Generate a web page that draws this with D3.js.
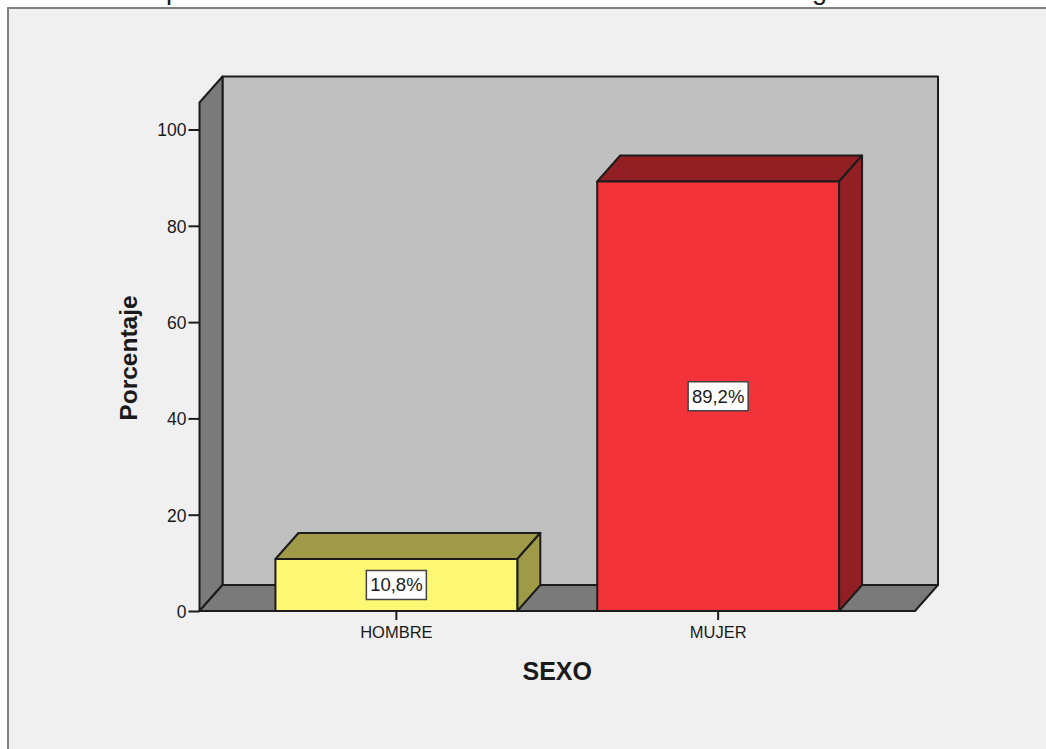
<!DOCTYPE html>
<html><head><meta charset="utf-8">
<script src="https://cdnjs.cloudflare.com/ajax/libs/d3/7.8.5/d3.min.js"></script>
<style>html,body{margin:0;padding:0;background:#fff;overflow:hidden}svg{display:block}text{font-family:"Liberation Sans",Arial,sans-serif;fill:#1a1a1a}</style>
</head><body><div id="c"></div>
<script>
const categories = ["HOMBRE", "MUJER"];
const percentages = [10.8, 89.2];
const valueLabels = ["10,8%", "89,2%"];
const yTicks = [0, 20, 40, 60, 80, 100];
const yAxisTop = 105.6;
const xTitle = "SEXO";
const yTitle = "Porcentaje";
const faceColors = ["#fdf873", "#f2333a"];
const shadeColors = ["#9e9a47", "#921f23"];

const W = 1046, H = 749;
const dx = 23, dy = -26;
const svg = d3.select("#c").append("svg").attr("width", W).attr("height", H);
const x = d3.scaleBand().domain(categories).range([199.5, 915]).paddingInner(0.2484).paddingOuter(0.236);
const y = d3.scaleLinear().domain([0, 100]).range([611, 129.5]);
const line = "#1c1c1c";
const poly = (pts, fill) => svg.append("path").attr("d", d3.line()(pts) + "Z")
  .attr("fill", fill).attr("stroke", line).attr("stroke-width", 2).attr("stroke-linejoin", "round");

// background and frame
svg.append("rect").attr("x", 8).attr("y", 8).attr("width", W).attr("height", H).attr("fill", "#f0f0f0")
  .attr("stroke", "#808080").attr("stroke-width", 2);

// clipped remains of the title above the frame
const clip = svg.append("clipPath").attr("id", "t").append("rect").attr("width", W).attr("height", 6);
const frag = svg.append("g").attr("clip-path", "url(#t)").style("font-size", "27px");
frag.append("text").attr("x", 166).attr("y", -1).text("p");
frag.append("text").attr("x", 812).attr("y", -1).text("g");

// 3D box
const [x0, x1] = x.range(), y0 = y(0), yT = y(yAxisTop);
poly([[x0 + dx, y0 + dy], [x1 + dx, y0 + dy], [x1 + dx, yT + dy], [x0 + dx, yT + dy]], "#bfbfbf");
poly([[x0, y0], [x0 + dx, y0 + dy], [x0 + dx, yT + dy], [x0, yT]], "#7a7a7a");
poly([[x0, y0], [x1, y0], [x1 + dx, y0 + dy], [x0 + dx, y0 + dy]], "#7a7a7a");

// y axis
const yAxis = svg.append("g").attr("transform", `translate(${x0},0)`)
  .call(d3.axisLeft(y).tickValues(yTicks).tickSize(11).tickPadding(2).tickFormat(d3.format("d")));
yAxis.select(".domain").remove();
yAxis.selectAll("line").attr("stroke", line).attr("stroke-width", 2);
yAxis.selectAll("text").style("font-size", "17.5px").attr("dy", "0.36em");

// x axis
const xAxis = svg.append("g").attr("transform", `translate(0,${y0})`)
  .call(d3.axisBottom(x).tickSize(9).tickPadding(6));
xAxis.select(".domain").remove();
xAxis.selectAll("line").attr("stroke", line).attr("stroke-width", 2);
xAxis.selectAll("text").style("font-size", "16.5px");

// bars
categories.forEach((c, i) => {
  const l = x(c), r = l + x.bandwidth(), t = y(percentages[i]);
  poly([[l, t], [r, t], [r + dx, t + dy], [l + dx, t + dy]], shadeColors[i]);
  poly([[r, t], [r + dx, t + dy], [r + dx, y0 + dy], [r, y0]], shadeColors[i]);
  poly([[l, y0], [r, y0], [r, t], [l, t]], faceColors[i]);
  const cx = l + x.bandwidth() / 2, cy = (t + y0) / 2;
  svg.append("rect").attr("x", cx - 30).attr("y", cy - 14.5).attr("width", 60).attr("height", 29)
    .attr("fill", "#fff").attr("stroke", "#444").attr("stroke-width", 1.5);
  svg.append("text").attr("x", cx).attr("y", cy + 6.5).attr("text-anchor", "middle")
    .style("font-size", "18.5px").text(valueLabels[i]);
});

// axis titles
svg.append("text").attr("x", (x0 + x1) / 2).attr("y", 680).attr("text-anchor", "middle")
  .style("font-size", "25px").style("font-weight", "bold").text(xTitle);
svg.append("text").attr("transform", "translate(137,358) rotate(-90)").attr("text-anchor", "middle")
  .style("font-size", "24.5px").style("font-weight", "bold").text(yTitle);
</script></body></html>
